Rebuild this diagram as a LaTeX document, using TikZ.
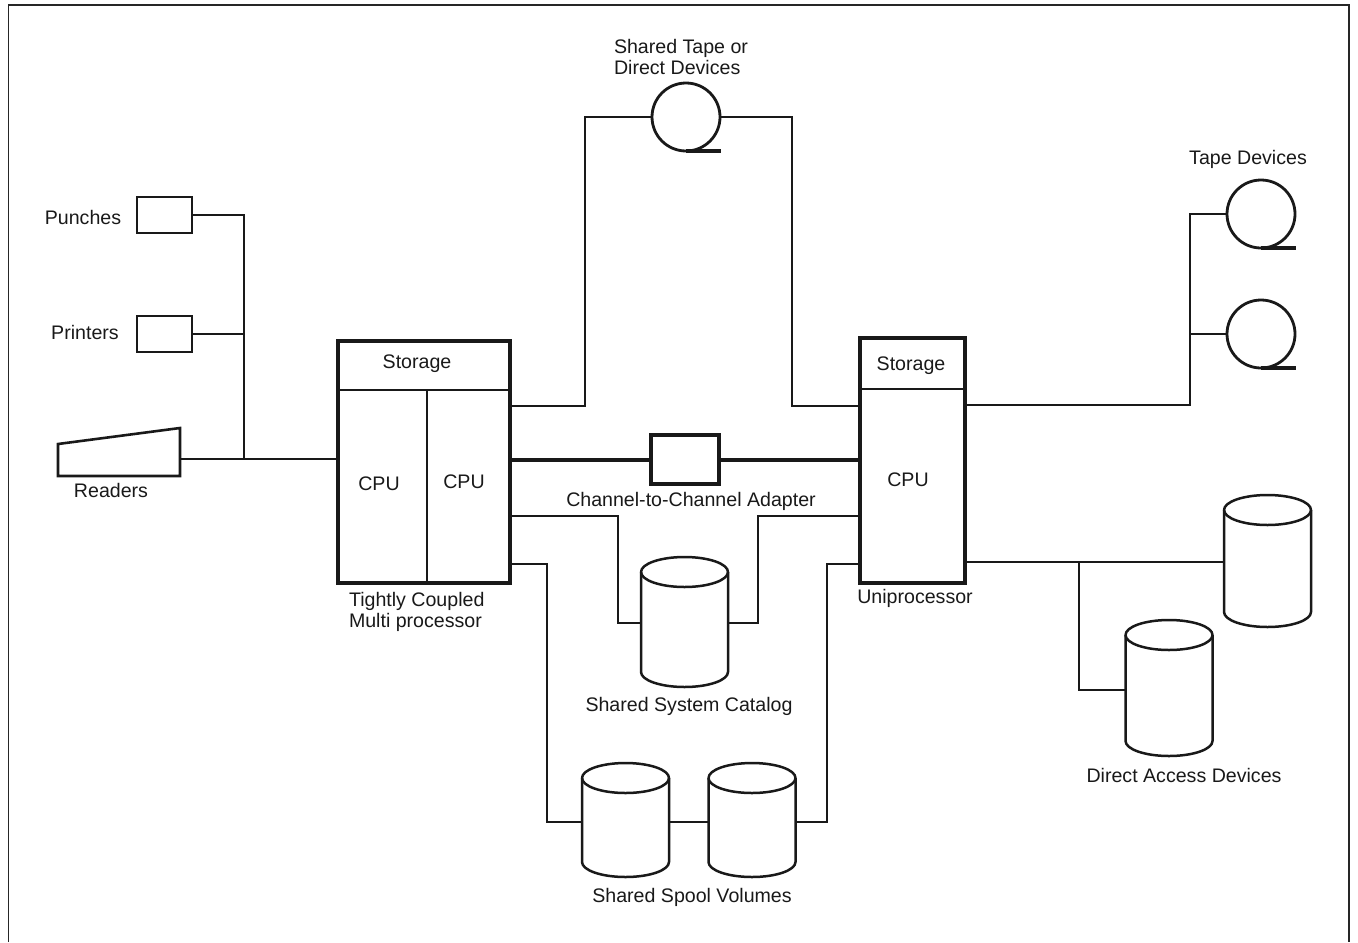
\documentclass[tikz,border=0pt]{standalone}
\usepackage{fontspec}
\setmainfont{Liberation Sans}

\tikzset{
    wire/.style={line width=1pt, black!90},
    heavywire/.style={line width=2pt, black!90},
    thinbar/.style={line width=0.9pt, black!90},
    framebox/.style={rectangle, draw=black!90, line width=1.8pt, fill=none},
    unitbox/.style={rectangle, draw=black!90, line width=1.1pt, minimum width=27.5pt, minimum height=18pt},
    tapeunit/.style={circle, draw=black!90, line width=1.4pt, minimum size=34pt,
        append after command={(\tikzlastnode.south) edge[line width=1.8pt, black!90] ++(35,0)}},
    diskunit/.style={rectangle, minimum width=43.5pt},
    diskline/.style={line width=1.25pt, black!90, line join=round},
    lbl/.style={text=black!90}
}
\newcommand{\drawdisk}[1]{
    \draw[diskline] ([yshift=-7.5pt]#1.north west) arc[start angle=180, delta angle=360, x radius=21.75pt, y radius=7.5pt];
    \draw[diskline] ([yshift=-7.5pt]#1.north west) -- ([yshift=7.5pt]#1.south west)
        arc[start angle=180, delta angle=180, x radius=21.75pt, y radius=7.5pt] -- ([yshift=-7.5pt]#1.north east);
}

\begin{document}
\begin{tikzpicture}[x=0.5pt, y=-0.5pt, every node/.style={font=\fontsize{9.8}{10.5}\selectfont, inner sep=0pt, outer sep=0pt}]
    \useasboundingbox (0,0) rectangle (1358,942);

    % Page frame
    \draw[line width=0.7pt, black!85] (8.5,942) -- (8.5,5) -- (1349,5) -- (1349,942);

    % Processors
    \node[framebox, minimum width=86pt, minimum height=121pt] (mp) at (424,462) {};
    \node[framebox, minimum width=52.5pt, minimum height=122.5pt] (uni) at (912.5,460.5) {};
    \draw[thinbar] (mp.west |- 0,390) -- (mp.east |- 0,390);
    \draw[thinbar] (427,390) -- (427,0 |- mp.south);
    \draw[thinbar] (uni.west |- 0,389) -- (uni.east |- 0,389);
    \node[lbl] (mpstorage) at (417,363.5) {Storage};
    \node[lbl] (mpcpua) at (379,484) {CPU};
    \node[lbl] (mpcpub) at (464,482) {CPU};
    \node[lbl] (unistorage) at (911,365.5) {Storage};
    \node[lbl] (unicpu) at (908,480) {CPU};

    % Unit record devices
    \node[unitbox] (punch) at (164.5,215) {};
    \node[unitbox] (printer) at (164.5,334) {};
    \node[minimum width=61pt, minimum height=24pt, shape=rectangle] (reader) at (119,452) {};
    \draw[line width=1.3pt, black!90] (reader.south west) -- (58,444) -- (180,428) -- (reader.south east) -- cycle;
    \node[lbl] (punchlabel) at (83,217) {Punches};
    \node[lbl] (printerlabel) at (85,332) {Printers};
    \node[lbl] (readerlabel) at (111,490) {Readers};
    \coordinate (urjoin) at (244,459);
    \coordinate (readerout) at (180,459);
    \draw[wire] (punch.east) -| (urjoin);
    \draw[wire] (printer.east) -- (printer.east -| urjoin);
    \draw[wire] (readerout) -- (readerout -| mp.west);

    % Shared tape
    \node[tapeunit] (sharedtape) at (686,117) {};
    \node[lbl, align=left, anchor=north west] (sharedtapelabel) at (614,39) {Shared Tape or\\Direct Devices};
    \coordinate (mptape) at (mp.east |- 0,406);
    \coordinate (unitape) at (uni.west |- 0,406);
    \draw[wire] (mptape) -| (585,0 |- sharedtape.west) -- (sharedtape.west);
    \draw[wire] (sharedtape.east) -- (792,0 |- sharedtape.east) |- (unitape);

    % Channel-to-channel adapter
    \node[framebox, minimum width=34pt, minimum height=24.5pt] (ctc) at (685,459.5) {};
    \node[lbl] (ctclabel) at (691,501) {Channel-to-Channel Adapter};
    \draw[heavywire] (ctc.west -| mp.east) -- (ctc.west);
    \draw[heavywire] (ctc.east) -- (ctc.east -| uni.west);

    % Shared system catalog
    \node[diskunit, minimum height=65pt] (catalog) at (684.5,622) {};
    \drawdisk{catalog}
    \node[lbl] (cataloglabel) at (689,706) {Shared System Catalog};
    \coordinate (mpcatalog) at (mp.east |- 0,516);
    \coordinate (unicatalog) at (uni.west |- 0,516);
    \coordinate (catalogin) at ([yshift=-0.5pt]catalog.west);
    \coordinate (catalogout) at ([yshift=-0.5pt]catalog.east);
    \draw[wire] (mpcatalog) -| (618,0 |- catalogin) -- (catalogin);
    \draw[wire] (unicatalog) -| (758,0 |- catalogout) -- (catalogout);

    % Shared spool volumes
    \node[diskunit, minimum height=57pt] (spoola) at (625.5,820) {};
    \node[diskunit, minimum height=57pt] (spoolb) at (752,820) {};
    \drawdisk{spoola}
    \drawdisk{spoolb}
    \node[lbl] (spoollabel) at (692,897) {Shared Spool Volumes};
    \coordinate (mpspool) at (mp.east |- 0,564);
    \coordinate (unispool) at (uni.west |- 0,564);
    \coordinate (spoolin) at ([yshift=-1pt]spoola.west);
    \coordinate (spoolout) at ([yshift=-1pt]spoolb.east);
    \draw[wire] (mpspool) -| (547,0 |- spoolin) -- (spoolin);
    \draw[wire] (spoola.east |- spoolin) -- (spoolb.west |- spoolin);
    \draw[wire] (spoolout) -- (827,0 |- spoolout) |- (unispool);

    % Uniprocessor captions and tapes
    \node[lbl, align=left, anchor=north west] (mplabel) at (349,592) {Tightly Coupled\\Multi processor};
    \node[lbl] (unilabel) at (915,598) {Uniprocessor};
    \node[tapeunit] (tapea) at (1261,214) {};
    \node[tapeunit] (tapeb) at (1261,334) {};
    \node[lbl] (tapelabel) at (1248,159) {Tape Devices};
    \coordinate (unitapes) at (uni.east |- 0,405);
    \draw[wire] (unitapes) -| (1190,0 |- tapea.west) -- (tapea.west);
    \draw[wire] (1190,0 |- tapeb.west) -- (tapeb.west);

    % Direct access devices
    \node[diskunit, minimum height=66pt] (diska) at (1267.5,561) {};
    \node[diskunit, minimum height=68pt] (diskb) at (1169,688) {};
    \drawdisk{diska}
    \drawdisk{diskb}
    \node[lbl] (disklabel) at (1184,775) {Direct Access Devices};
    \coordinate (unidisk) at ([yshift=-0.5pt]uni.east |- diska.west);
    \coordinate (diskin) at ([yshift=-1pt]diskb.west);
    \draw[wire] (unidisk) -- (unidisk -| diska.west);
    \draw[wire] (1079,0 |- unidisk) |- (diskin);
\end{tikzpicture}
\end{document}
